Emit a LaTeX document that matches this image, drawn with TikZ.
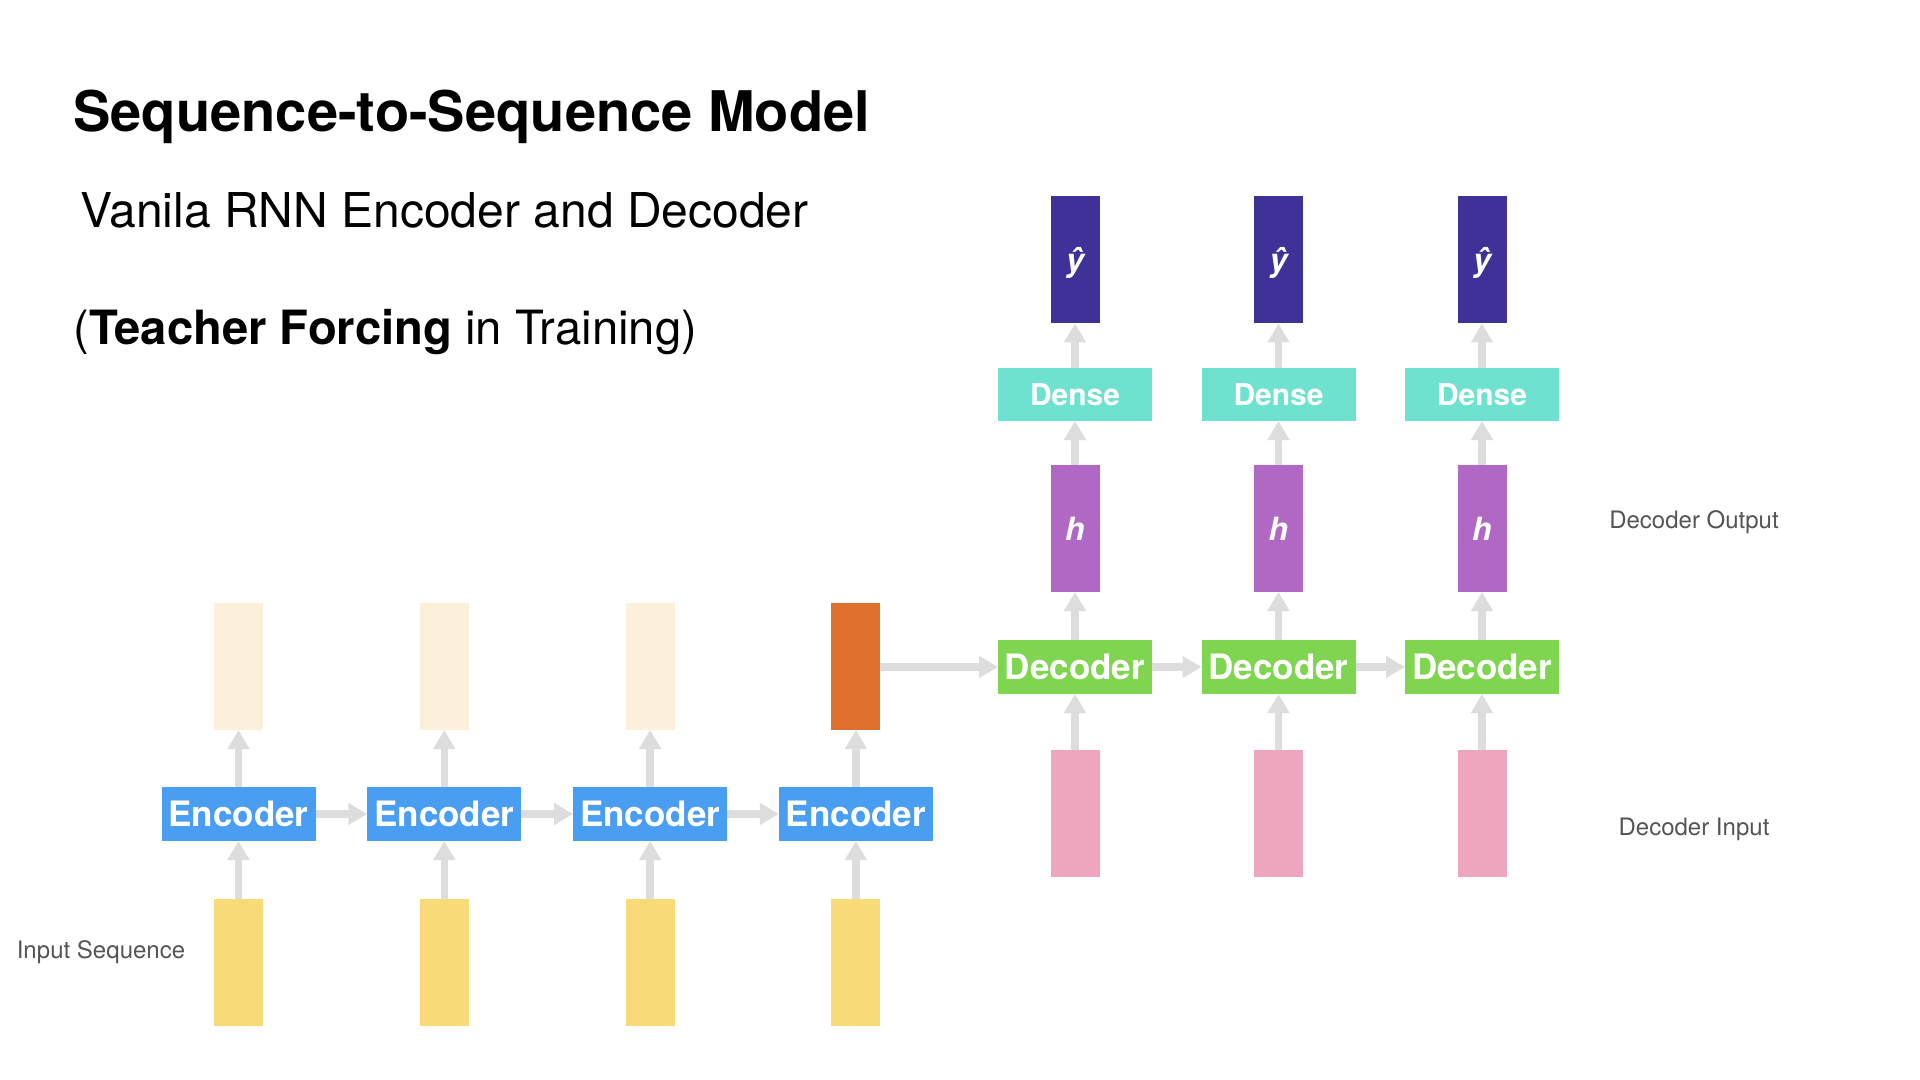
\documentclass[tikz,border=0pt]{standalone}
\usepackage{fontspec}
\setmainfont{TeX Gyre Heros}
\usetikzlibrary{arrows.meta}
\definecolor{encblue}{RGB}{74,158,242}
\definecolor{peach}{RGB}{252,240,218}
\definecolor{lastorange}{RGB}{222,112,46}
\definecolor{inyellow}{RGB}{249,218,120}
\definecolor{decgreen}{RGB}{127,212,80}
\definecolor{densecyan}{RGB}{110,226,207}
\definecolor{hpurple}{RGB}{176,104,196}
\definecolor{yindigo}{RGB}{62,50,153}
\definecolor{inpink}{RGB}{237,166,190}
\definecolor{arrowgrey}{RGB}{221,221,221}
\definecolor{labelgrey}{RGB}{85,85,85}
\tikzset{
  unitbox/.style={inner sep=0pt, outer sep=0pt, draw=none, text=white},
  widebox/.style={unitbox, minimum width=77pt, minimum height=27pt,
    font=\fontsize{17.5}{20}\selectfont\bfseries},
  densebox/.style={unitbox, fill=densecyan, minimum width=77pt, minimum height=26.5pt,
    font=\fontsize{15}{18}\selectfont\bfseries},
  tallbox/.style={unitbox, minimum width=24.5pt, minimum height=63.5pt,
    font=\fontsize{16}{19}\selectfont\bfseries\itshape},
  flow/.style={draw=arrowgrey, line width=3.75pt,
    -{Triangle[width=10.5pt,length=9.5pt]}},
  sidelabel/.style={text=labelgrey, font=\fontsize{12}{14}\selectfont, inner sep=0pt}
}
\begin{document}
\begin{tikzpicture}[x=0.5pt,y=-0.5pt]
\useasboundingbox (0,0) rectangle (1920,1080);
\fill[white] (0,0) rectangle (1920,1080);

% titles
\node[anchor=base west, inner sep=0pt, font=\fontsize{28}{34}\selectfont\bfseries] (title) at (73,132) {Sequence-to-Sequence Model};
\node[anchor=base west, inner sep=0pt, font=\fontsize{24}{29}\selectfont] (subtitle) at (80,228) {Vanila RNN Encoder and Decoder};
\node[anchor=base west, inner sep=0pt, font=\fontsize{23.6}{28}\selectfont] (tf) at (73,344) {(\textbf{Teacher Forcing} in Training)};

% encoder side
\foreach \i/\x in {1/238.5,2/444.3,3/650.1,4/855.9}{
  \node[widebox, fill=encblue] (enc\i) at (\x,814) {Encoder};
  \node[tallbox, fill=inyellow] (in\i) at (\x,962) {};
}
\foreach \i/\x in {1/238.5,2/444.3,3/650.1}{
  \node[tallbox, fill=peach] (st\i) at (\x,666.5) {};
}
\node[tallbox, fill=lastorange] (st4) at (855.9,666.5) {};

\foreach \i in {1,2,3,4}{
  \draw[flow] (in\i.north) -- (enc\i.south);
  \draw[flow] (enc\i.north) -- (st\i.south);
}
\draw[flow] (enc1.east) -- (enc2.west);
\draw[flow] (enc2.east) -- (enc3.west);
\draw[flow] (enc3.east) -- (enc4.west);

% decoder side
\foreach \i/\x in {1/1075,2/1278.5,3/1482}{
  \node[widebox, fill=decgreen] (dec\i) at (\x,667) {Decoder};
  \node[tallbox, fill=inpink] (din\i) at (\x,813.5) {};
  \node[tallbox, fill=hpurple] (h\i) at (\x,528.5) {h};
  \node[densebox] (dense\i) at (\x,394.5) {Dense};
  \node[tallbox, fill=yindigo] (yhat\i) at (\x,260) {\raisebox{-6pt}[0pt][0pt]{ŷ}};
  \draw[flow] (din\i.north) -- (dec\i.south);
  \draw[flow] (dec\i.north) -- (h\i.south);
  \draw[flow] (h\i.north) -- (dense\i.south);
  \draw[flow] (dense\i.north) -- (yhat\i.south);
}
\draw[flow] (st4.east |- dec1.west) -- (dec1.west);
\draw[flow] (dec1.east) -- (dec2.west);
\draw[flow] (dec2.east) -- (dec3.west);

% side labels
\node[sidelabel] (lblin) at (101,952) {Input Sequence};
\node[sidelabel] (lbldo) at (1694,522.5) {Decoder Output};
\node[sidelabel] (lbldi) at (1694,829.5) {Decoder Input};
\end{tikzpicture}
\end{document}
